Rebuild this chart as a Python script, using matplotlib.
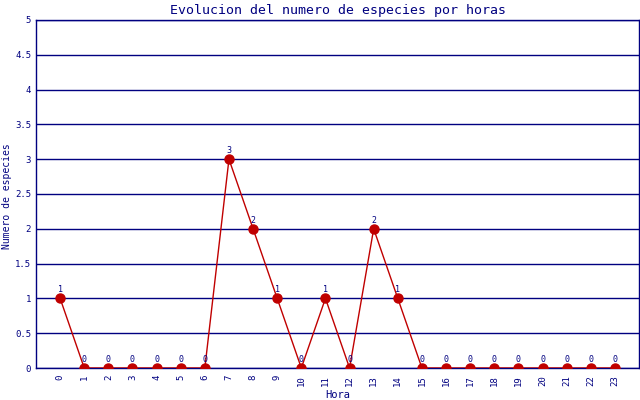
import matplotlib
matplotlib.use("Agg")
import matplotlib.pyplot as plt

# data
horas = list(range(24))
especies = [1, 0, 0, 0, 0, 0, 0, 3, 2, 1, 0, 1, 0, 2, 1, 0, 0, 0, 0, 0, 0, 0, 0, 0]
y_ticks = [0, 0.5, 1, 1.5, 2, 2.5, 3, 3.5, 4, 4.5, 5]
y_labels = ["0", "0.5", "1", "1.5", "2", "2.5", "3", "3.5", "4", "4.5", "5"]

navy = "#000080"
red = "#c00000"
mono = "DejaVu Sans Mono"

fig = plt.figure(figsize=(6.4, 4.0), dpi=100)
ax = fig.add_axes([0.05625, 0.08, 0.9422, 0.87])

ax.plot(horas, especies, color=red, linewidth=1, marker="o", markersize=6.5, zorder=3)
for h, v in zip(horas, especies):
    ax.text(h, v + 0.06, str(v), color=navy, fontsize=6, ha="center", va="bottom",
            family=mono, zorder=4)

ax.set_xlim(-1, 24)
ax.set_ylim(0, 5)
ax.set_yticks(y_ticks)
ax.set_yticklabels(y_labels)
ax.set_xticks(horas)
ax.set_xticklabels([str(h) for h in horas], rotation=90)
ax.tick_params(axis="both", length=0, colors=navy, labelsize=6.5)
ax.tick_params(axis="y", pad=3.5)
ax.tick_params(axis="x", pad=5)
for lab in ax.get_xticklabels() + ax.get_yticklabels():
    lab.set_family(mono)

ax.yaxis.grid(True, color=navy, linewidth=1)
ax.set_axisbelow(True)
for s in ax.spines.values():
    s.set_color(navy)
    s.set_linewidth(1)

ax.set_title("Evolucion del numero de especies por horas", color=navy, fontsize=9.5,
             family=mono, pad=4)
ax.set_xlabel("Hora", color=navy, fontsize=7.5, family=mono, labelpad=3)
# y label placed by hand so it stays inside the left edge
fig.text(0.011, 0.51, "Numero de especies", color=navy, fontsize=7, family=mono,
         rotation=90, ha="center", va="center")

fig.savefig("out.png", dpi=100)
